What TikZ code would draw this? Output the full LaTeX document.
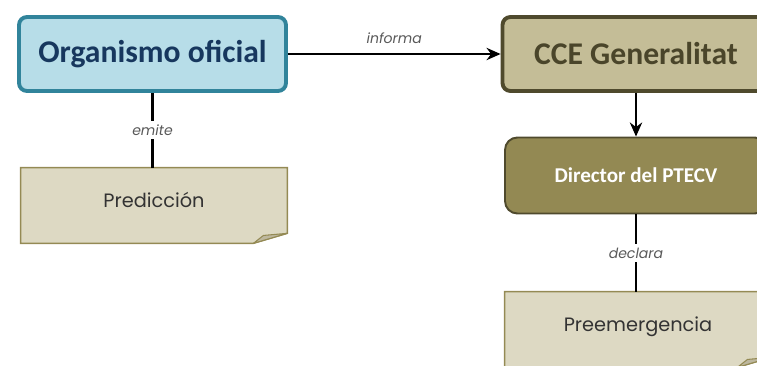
\documentclass[tikz,border=0pt]{standalone}
\usepackage{fontspec}
\usetikzlibrary{arrows.meta,backgrounds}

\newfontfamily\calibri{Carlito}
\newfontfamily\gothic{Poppins}

\definecolor{orgfill}{HTML}{B7DDE8}
\definecolor{orgline}{HTML}{31849B}
\definecolor{orgtext}{HTML}{17375E}
\definecolor{ccefill}{HTML}{C4BD97}
\definecolor{cceline}{HTML}{4F4A2D}
\definecolor{ccetext}{HTML}{4A452A}
\definecolor{dirfill}{HTML}{938953}
\definecolor{notefill}{HTML}{DDD9C3}
\definecolor{noteline}{HTML}{948A54}
\definecolor{foldfill}{HTML}{BDB79E}
\definecolor{labeltext}{HTML}{595959}

\tikzset{
    bigbox/.style={draw, line width=2.2pt, rounded corners=4.5pt,
        minimum width=5.34cm, minimum height=1.48cm,
        font=\calibri\bfseries\fontsize{18}{20}\selectfont},
    dirbox/.style={draw=cceline, fill=dirfill, line width=1.1pt, rounded corners=7pt,
        minimum width=5.24cm, minimum height=1.52cm, text=white,
        font=\calibri\bfseries\fontsize{12}{14}\selectfont},
    note/.style={minimum width=5.32cm, minimum height=1.5cm, text depth=6pt, text=black!80,
        font=\gothic\fontsize{11}{13}\selectfont},
    notebox/.style={draw=noteline, fill=notefill, line width=0.8pt},
    foldbox/.style={draw=noteline, fill=foldfill, line width=0.6pt, line join=round},
    link/.style={line width=1.4pt},
    linklabel/.style={fill=white, inner sep=2pt, text=labeltext,
        font=\gothic\itshape\fontsize{8}{10}\selectfont}
}

\begin{document}
\begin{tikzpicture}[x=0.02cm, y=-0.02cm]

    \useasboundingbox (0,0) rectangle (757,365);

    % Boxes
    \node[bigbox, draw=orgline, fill=orgfill, text=orgtext] (org) at (152.5,54) {Organismo oficial};
    \node[bigbox, draw=cceline, fill=ccefill, text=ccetext] (cce) at (636,54) {CCE Generalitat};
    \node[dirbox] (dir) at (636,175.5) {Director del PTECV};

    % Notes
    \node[note] (pred) at (154,205.5) {Predicción};
    \node[note] (pree) at (638,329.5) {Preemergencia};

    \begin{scope}[on background layer]
        \draw[notebox] (pred.north west) -- (pred.north east) -- ([yshift=5.7pt]pred.south east)
            -- ([xshift=-19.3pt]pred.south east) -- (pred.south west) -- cycle;
        \draw[foldbox] ([yshift=5.7pt]pred.south east) -- ([xshift=-19.3pt]pred.south east)
            -- ([xshift=-13.6pt, yshift=4.5pt]pred.south east) -- cycle;
        \draw[notebox] (pree.north west) -- (pree.north east) -- ([yshift=5.7pt]pree.south east)
            -- ([xshift=-19.3pt]pree.south east) -- (pree.south west) -- cycle;
        \draw[foldbox] ([yshift=5.7pt]pree.south east) -- ([xshift=-19.3pt]pree.south east)
            -- ([xshift=-13.6pt, yshift=4.5pt]pree.south east) -- cycle;
    \end{scope}

    % Links
    \draw[link, -{Stealth[length=8pt, width=7pt]}] (org.east) -- (cce.west)
        node[midway, above=3pt, linklabel, fill=none] {informa};
    \draw[link, -{Stealth[length=8pt, width=7pt]}] (cce.south) -- (dir.north);
    \draw[link] (org.south) -- (org.south |- pred.north) node[midway, linklabel] {emite};
    \draw[link] (dir.south) -- (dir.south |- pree.north) node[midway, linklabel] {declara};

\end{tikzpicture}
\end{document}
